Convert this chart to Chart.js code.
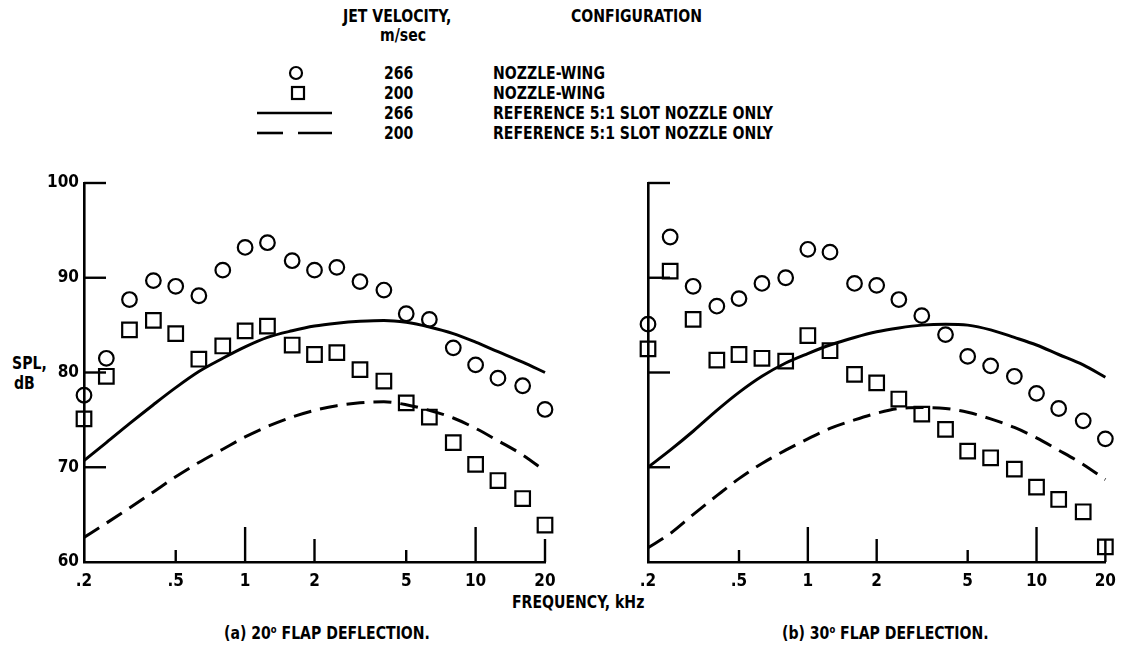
<!DOCTYPE html>
<html>
<head>
<meta charset="utf-8">
<script src="https://cdn.jsdelivr.net/npm/chart.js@4.4.1/dist/chart.umd.min.js"></script>
<style>
  html, body { margin:0; padding:0; background:#fff; }
  body { width:1125px; height:645px; position:relative; overflow:hidden;
         font-family:"Liberation Sans Narrow","DejaVu Sans Condensed","Roboto Condensed","Arial Narrow","DejaVu Sans",sans-serif;
         font-weight:bold; color:#000; }
  .t { position:absolute; white-space:nowrap; line-height:1; transform:translateY(-50%); }
  .n { transform:translateY(-50%) scaleX(0.92); transform-origin:left center; font-size:17px; }
  .c { transform:translate(-50%,-50%); }
  .box { position:absolute; }
  sup { font-size:0.6em; vertical-align:0.55em; }
</style>
</head>
<body>
<!-- legend -->
<div class="t n" style="left:343px;top:16px;">JET VELOCITY,</div>
<div class="t n" style="left:380px;top:35px;">m/sec</div>
<div class="t n" style="left:571px;top:16px;">CONFIGURATION</div>
<div id="legend"></div>

<div class="t n" style="left:12px;top:363px;">SPL,</div>
<div class="t n" style="left:14px;top:383px;">dB</div>

<div class="t n" style="left:512px;top:602px;">FREQUENCY, kHz</div>
<div class="t n" style="left:224px;top:633px;">(a) 20<sup>o</sup> FLAP DEFLECTION.</div>
<div class="t n" style="left:782px;top:633px;">(b) 30<sup>o</sup> FLAP DEFLECTION.</div>

<div class="box" style="left:0px;top:150px;width:600px;height:470px;"><canvas id="left"></canvas></div>
<div class="box" style="left:560px;top:150px;width:565px;height:470px;"><canvas id="right"></canvas></div>

<script>
// ---------------- data ----------------
const frequencies = [0.2, 0.25, 0.315, 0.4, 0.5, 0.63, 0.8, 1, 1.25, 1.6, 2, 2.5, 3.15, 4, 5, 6.3, 8, 10, 12.5, 16, 20];

// (a) 20 deg flap
const leftWing266 = [77.6, 81.5, 87.7, 89.7, 89.1, 88.1, 90.8, 93.2, 93.7, 91.8, 90.8, 91.1, 89.6, 88.7, 86.2, 85.6, 82.6, 80.8, 79.4, 78.6, 76.1];
const leftWing200 = [75.1, 79.6, 84.5, 85.5, 84.1, 81.4, 82.8, 84.4, 84.9, 82.9, 81.9, 82.1, 80.3, 79.1, 76.8, 75.3, 72.6, 70.3, 68.6, 66.7, 63.9];
const leftRef266  = [70.7, 72.6, 74.6, 76.6, 78.4, 80.1, 81.5, 82.7, 83.7, 84.4, 84.9, 85.2, 85.4, 85.5, 85.3, 84.8, 84.1, 83.2, 82.2, 81.1, 80.0];
const leftRef200  = [62.6, 64.1, 65.7, 67.4, 69.0, 70.5, 71.9, 73.2, 74.3, 75.3, 76.0, 76.5, 76.8, 76.9, 76.6, 76.0, 75.2, 74.1, 72.8, 71.3, 69.6];

// (b) 30 deg flap
const rightWing266 = [85.1, 94.3, 89.1, 87.0, 87.8, 89.4, 90.0, 93.0, 92.7, 89.4, 89.2, 87.7, 86.0, 84.0, 81.7, 80.7, 79.6, 77.8, 76.2, 74.9, 73.0];
const rightWing200 = [82.5, 90.7, 85.6, 81.3, 81.9, 81.5, 81.2, 83.9, 82.3, 79.8, 78.9, 77.2, 75.6, 74.0, 71.7, 71.0, 69.8, 67.9, 66.6, 65.3, 61.6];
const rightRef266  = [70.0, 71.8, 73.8, 76.0, 77.9, 79.6, 81.0, 82.0, 82.9, 83.7, 84.3, 84.7, 85.0, 85.1, 85.0, 84.5, 83.7, 82.9, 81.9, 80.8, 79.5];
const rightRef200  = [61.5, 63.0, 65.0, 67.0, 68.8, 70.4, 71.8, 73.0, 74.1, 75.0, 75.7, 76.2, 76.3, 76.2, 75.8, 75.1, 74.2, 73.1, 71.8, 70.3, 68.7];

// axes
const xTickValues = [0.2, 0.5, 1, 2, 5, 10, 20];
const xTickLabels = ['.2', '.5', '1', '2', '5', '10', '20'];
const yTickValues = [60, 70, 80, 90, 100];
const yTickLabels = ['60', '70', '80', '90', '100'];

// legend
const legendVelocity = ['266', '200', '266', '200'];
const legendConfig = ['NOZZLE-WING', 'NOZZLE-WING', 'REFERENCE 5:1 SLOT NOZZLE ONLY', 'REFERENCE 5:1 SLOT NOZZLE ONLY'];

// ---------------- styles ----------------
const FONT = '"Liberation Sans Narrow","DejaVu Sans Condensed","Roboto Condensed","Arial Narrow","DejaVu Sans",sans-serif';
const X_TICK_LEN = [0, 12, 35, 23, 12, 35, 23];
const Y_TICK_LEN = 22;
const legendRowsY = [73, 93, 113, 133];

// legend build
(function(){
  const L = document.getElementById('legend');
  const markers = [
    '<svg width="20" height="20"><circle cx="10" cy="10" r="6" fill="none" stroke="#000" stroke-width="2.2"/></svg>',
    '<svg width="20" height="20"><rect x="4" y="4" width="12" height="12" fill="none" stroke="#000" stroke-width="2.2"/></svg>',
    '<svg width="80" height="10"><line x1="2" y1="5" x2="77" y2="5" stroke="#000" stroke-width="2.6"/></svg>',
    '<svg width="80" height="10"><line x1="2" y1="5" x2="28" y2="5" stroke="#000" stroke-width="2.6"/><line x1="43" y1="5" x2="77" y2="5" stroke="#000" stroke-width="2.6"/></svg>'
  ];
  const mx = [296, 298, 295, 295];
  let h = '';
  legendRowsY.forEach((y, i) => {
    h += `<div class="t c" style="left:${mx[i]}px;top:${y}px;line-height:0">${markers[i]}</div>`;
    h += `<div class="t n" style="left:384px;top:${y}px;">${legendVelocity[i]}</div>`;
    h += `<div class="t n" style="left:493px;top:${y}px;">${legendConfig[i]}</div>`;
  });
  L.innerHTML = h;
})();

const tickPlugin = {
  id: 'insideTicks',
  afterDraw(chart) {
    const {ctx, chartArea: a, scales: {x, y}} = chart;
    ctx.save();
    ctx.strokeStyle = '#000';
    ctx.lineWidth = 2.4;
    ctx.lineCap = 'butt';
    xTickValues.forEach((v, i) => {
      if (!X_TICK_LEN[i]) return;
      const px = x.getPixelForValue(v);
      ctx.beginPath(); ctx.moveTo(px, a.bottom); ctx.lineTo(px, a.bottom - X_TICK_LEN[i]); ctx.stroke();
    });
    yTickValues.forEach(v => {
      if (v === yTickValues[0]) return;
      const py = y.getPixelForValue(v);
      ctx.beginPath(); ctx.moveTo(a.left, py); ctx.lineTo(a.left + Y_TICK_LEN, py); ctx.stroke();
    });
    ctx.restore();
  }
};

function pts(arr) { return frequencies.map((f, i) => ({x: f, y: arr[i]})); }

function makeChart(id, wing266, wing200, ref266, ref200, showYLabels, padding) {
  new Chart(document.getElementById(id), {
    type: 'line',
    data: {
      datasets: [
        { data: pts(ref266), borderColor: '#000', borderWidth: 3, pointRadius: 0, cubicInterpolationMode: 'monotone', fill: false, clip: false },
        { data: pts(ref200), borderColor: '#000', borderWidth: 3, borderDash: [18, 9], pointRadius: 0, cubicInterpolationMode: 'monotone', fill: false, clip: false },
        { data: pts(wing266), showLine: false, pointStyle: 'circle', pointRadius: 7.3, pointBorderWidth: 2.2, pointBorderColor: '#000', pointBackgroundColor: 'rgba(0,0,0,0)', clip: false },
        { data: pts(wing200), showLine: false, pointStyle: 'rect', pointRadius: 10.3, pointBorderWidth: 2.2, pointBorderColor: '#000', pointBackgroundColor: 'rgba(0,0,0,0)', clip: false }
      ]
    },
    options: {
      responsive: true,
      maintainAspectRatio: false,
      animation: false,
      events: [],
      layout: { padding },
      plugins: { legend: { display: false }, tooltip: { enabled: false } },
      scales: {
        x: {
          type: 'logarithmic', min: 0.2, max: 20,
          afterBuildTicks: s => { s.ticks = xTickValues.map(v => ({value: v})); },
          afterFit: s => { s.height = 40; },
          grid: { display: false, drawTicks: false },
          border: { display: true, color: '#000', width: 2.6 },
          ticks: {
            autoSkip: false, maxRotation: 0, padding: 9, color: '#000',
            font: { family: FONT, size: 17, weight: 'bold' },
            callback: (v) => { const i = xTickValues.indexOf(v); return i >= 0 ? xTickLabels[i] : ''; }
          }
        },
        y: {
          min: 60, max: 100,
          afterBuildTicks: s => { s.ticks = yTickValues.map(v => ({value: v})); },
          afterFit: s => { s.width = 60; },
          grid: { display: false, drawTicks: false },
          border: { display: true, color: '#000', width: 2.6 },
          ticks: {
            display: showYLabels, padding: 5, color: '#000',
            font: { family: FONT, size: 17, weight: 'bold' },
            callback: (v) => { const i = yTickValues.indexOf(v); return i >= 0 ? yTickLabels[i] : ''; }
          }
        }
      }
    },
    plugins: [tickPlugin]
  });
}

makeChart('left', leftWing266, leftWing200, leftRef266, leftRef200, true, {left: 24, top: 33, right: 55, bottom: 18});
makeChart('right', rightWing266, rightWing200, rightRef266, rightRef200, false, {left: 28, top: 33, right: 13, bottom: 18});
</script>
</body>
</html>
